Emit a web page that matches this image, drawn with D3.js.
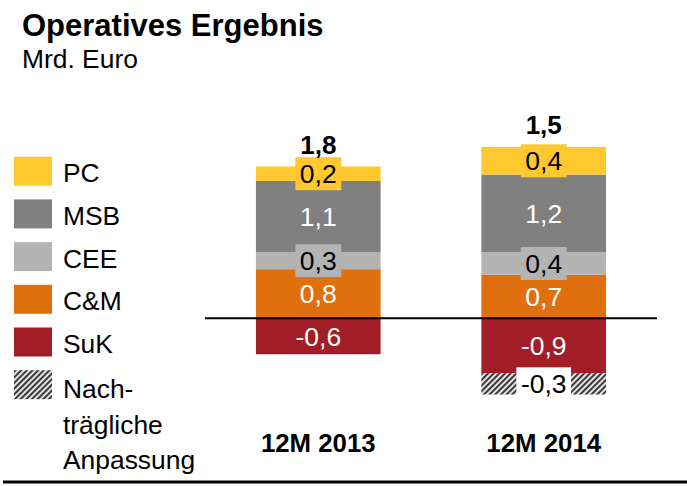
<!DOCTYPE html>
<html>
<head>
<meta charset="utf-8">
<script src="https://cdn.jsdelivr.net/npm/d3@7"></script>
<style>
  body { margin: 0; background: #fff; }
  svg { font-family: "Liberation Sans", Arial, sans-serif; }
</style>
</head>
<body>
<div id="container"></div>
<script>
/* DATA */
const categories = ["12M 2013", "12M 2014"];
const pc = [0.23, 0.44];
const msb = [1.13, 1.23];
const cee = [0.27, 0.36];
const cm = [0.78, 0.69];
const suk = [-0.57, -0.87];
const adj = [0, -0.34];

const legendLabels = ["PC", "MSB", "CEE", "C&M", "SuK", ["Nach-", "trägliche", "Anpassung"]];

/* CONSTANTS */
const width = 687, height = 486;
const keys = ["cm", "cee", "msb", "pc", "suk", "adj"];
const colors = { pc: "#ffc82e", msb: "#808080", cee: "#b3b3b3", cm: "#e0700e", suk: "#a31d26", adj: "url(#hatch)" };
const boxColors = { pc: "#ffc82e", msb: "#808080", cee: "#b3b3b3", cm: "#e0700e", suk: "#a31d26", adj: "#fff" };
const textColors = { pc: "#000", msb: "#fff", cee: "#000", cm: "#fff", suk: "#fff", adj: "#000" };
const legendKeys = ["pc", "msb", "cee", "cm", "suk", "adj"];

const de = d3.formatLocale({ decimal: ",", thousands: ".", grouping: [3], currency: ["", "€"], minus: "-" });
const fmt = de.format(".1f");

// table for the stack
const rows = categories.map((c, i) => ({
  cat: c, pc: pc[i], msb: msb[i], cee: cee[i], cm: cm[i], suk: suk[i], adj: adj[i]
}));

const series = d3.stack().keys(keys).offset(d3.stackOffsetDiverging)(rows);

/* SCALES */
const xScale = d3.scaleBand()
  .domain(categories)
  .range([205, 657])
  .paddingInner(0.447)
  .paddingOuter(0.226);

const yScale = d3.scaleLinear()
  .domain([-1.5, 3])
  .range([412.8, 129.3]);

const svg = d3.select("#container")
  .append("svg")
  .attr("width", width)
  .attr("height", height);

// hatch pattern
svg.append("defs")
  .append("pattern")
  .attr("id", "hatch")
  .attr("patternUnits", "userSpaceOnUse")
  .attr("width", 4)
  .attr("height", 4)
  .attr("patternTransform", "rotate(45)")
  .call(p => {
    p.append("rect").attr("width", 4).attr("height", 4).attr("fill", "#fff");
    p.append("line").attr("x1", 1.2).attr("x2", 1.2).attr("y1", 0).attr("y2", 4)
      .attr("stroke", "#333").attr("stroke-width", 2.2);
  });

/* TITLE */
svg.append("text")
  .attr("x", 22).attr("y", 36)
  .attr("font-size", 31).attr("font-weight", "bold")
  .text("Operatives Ergebnis");

svg.append("text")
  .attr("x", 22).attr("y", 68)
  .attr("font-size", 26.4)
  .text("Mrd. Euro");

/* BARS */
svg.append("g")
  .selectAll("g")
  .data(series)
  .join("g")
  .attr("fill", d => colors[d.key])
  .selectAll("rect")
  .data(d => d.filter(v => v[1] - v[0] !== 0))
  .join("rect")
  .attr("x", d => xScale(d.data.cat))
  .attr("width", xScale.bandwidth())
  .attr("y", d => yScale(d[1]))
  .attr("height", d => yScale(d[0]) - yScale(d[1]));

// zero line
svg.append("line")
  .attr("x1", 205).attr("x2", 657)
  .attr("y1", yScale(0)).attr("y2", yScale(0))
  .attr("stroke", "#000").attr("stroke-width", 2);

/* VALUE LABELS */
const labelData = [];
series.forEach(s => s.forEach(d => {
  const v = d.data[s.key];
  if (v !== 0) labelData.push({ key: s.key, cat: d.data.cat, v: v, mid: (d[0] + d[1]) / 2 });
}));

const labels = svg.append("g")
  .selectAll("g")
  .data(labelData)
  .join("g")
  .attr("transform", d => `translate(${xScale(d.cat) + xScale.bandwidth() / 2},${yScale(d.mid)})`);

labels.append("text")
  .attr("text-anchor", "middle")
  .attr("y", 9.5)
  .attr("font-size", 26.5)
  .attr("fill", d => textColors[d.key])
  .text(d => fmt(d.v));

labels.each(function(d) {
  const g = d3.select(this);
  const w = g.select("text").node().getComputedTextLength() + 9;
  g.insert("rect", "text")
    .attr("x", -w / 2).attr("y", -16.5)
    .attr("width", w).attr("height", 33)
    .attr("fill", boxColors[d.key]);
});

// totals
svg.append("g")
  .selectAll("text")
  .data(rows)
  .join("text")
  .attr("x", d => xScale(d.cat) + xScale.bandwidth() / 2)
  .attr("y", d => yScale(d.pc + d.msb + d.cee + d.cm) - 12.5)
  .attr("text-anchor", "middle")
  .attr("font-size", 26).attr("font-weight", "bold")
  .text(d => fmt(d.pc + d.msb + d.cee + d.cm + d.suk + d.adj));

/* X AXIS LABELS */
const xAxis = d3.axisBottom(xScale).tickSize(0).tickPadding(0);
svg.append("g")
  .attr("transform", "translate(0,434)")
  .call(xAxis)
  .call(g => g.select(".domain").remove())
  .selectAll("text")
  .attr("dy", 0).attr("y", 18.3)
  .attr("fill", "#000")
  .attr("font-family", "Liberation Sans, Arial, sans-serif")
  .attr("font-size", 25.8).attr("font-weight", "bold");

// bottom rule
svg.append("line")
  .attr("x1", 3).attr("x2", 687)
  .attr("y1", 482).attr("y2", 482)
  .attr("stroke", "#000").attr("stroke-width", 3);

/* LEGEND */
const legend = svg.append("g")
  .selectAll("g")
  .data(legendKeys)
  .join("g")
  .attr("transform", (d, i) => `translate(14,${156.7 + i * 42.7})`);

legend.append("rect")
  .attr("width", 38).attr("height", 29)
  .attr("fill", d => colors[d]);

legend.append("text")
  .attr("x", 49).attr("y", (d, i) => i === 5 ? 28 : 25.6)
  .attr("font-size", 26.4)
  .each(function(d, i) {
    const lines = [].concat(legendLabels[i]);
    d3.select(this).selectAll("tspan")
      .data(lines)
      .join("tspan")
      .attr("x", 49)
      .attr("dy", (l, j) => j === 0 ? 0 : 35.5)
      .text(l => l);
  });
</script>
</body>
</html>
